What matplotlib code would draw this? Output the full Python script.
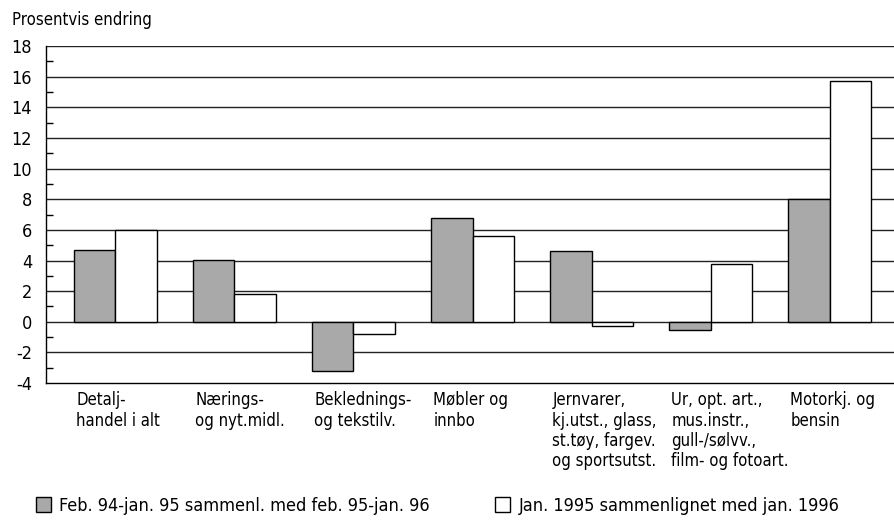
import numpy as np
import matplotlib.pyplot as plt
import matplotlib.transforms as mtransforms

plt.rcParams['font.family'] = ['DejaVu Sans']
plt.rcParams['font.stretch'] = 'condensed'
plt.rcParams['axes.unicode_minus'] = False

categories = ["Detalj-\nhandel i alt", "Nærings-\nog nyt.midl.", "Beklednings-\nog tekstilv.",
              "Møbler og\ninnbo", "Jernvarer,\nkj.utst., glass,\nst.tøy, fargev.\nog sportsutst.",
              "Ur, opt. art.,\nmus.instr.,\ngull-/sølvv.,\nfilm- og fotoart.", "Motorkj. og\nbensin"]
feb_series = [4.7, 4.05, -3.2, 6.8, 4.6, -0.55, 8.0]
jan_series = [6.0, 1.8, -0.8, 5.6, -0.3, 3.75, 15.75]
label_feb = "Feb. 94-jan. 95 sammenl. med feb. 95-jan. 96"
label_jan = "Jan. 1995 sammenlignet med jan. 1996"

fig = plt.figure(figsize=(8.94, 5.24), dpi=100)
ax = fig.add_axes([0.0515, 0.269, 0.9485, 0.643])

x = np.arange(len(categories))
w = 0.35
ax.bar(x - w / 2, feb_series, w, color='#a9a9a9', edgecolor='black', linewidth=1, zorder=3, label=label_feb)
ax.bar(x + w / 2, jan_series, w, color='white', edgecolor='black', linewidth=1, zorder=3, label=label_jan)

ax.set_ylim(-4, 18)
ax.set_xlim(-0.582, 6.54)
ax.set_yticks(np.arange(-4, 19, 2))
ax.set_yticks(np.arange(-3, 18, 2), minor=True)
ax.set_xticks([])
for yv in np.arange(-2, 19, 2):
    ax.axhline(yv, color='#222222', linewidth=1, zorder=1)
ax.tick_params(axis='y', which='major', length=0, labelsize=13, pad=10)
ax.tick_params(axis='y', which='minor', direction='in', length=5, width=1)
ax.spines['top'].set_visible(False)
ax.spines['right'].set_visible(False)
ax.spines['left'].set_linewidth(1)
ax.spines['bottom'].set_linewidth(1)

trans = mtransforms.blended_transform_factory(ax.transData, ax.transAxes)
for i, lab in enumerate(categories):
    ax.text(i - w + 0.02, -0.025, lab, transform=trans, ha='left', va='top',
            fontsize=12, linespacing=1.15)

fig.text(0.013, 0.962, "Prosentvis endring", ha='left', va='center', fontsize=12)

leg = fig.legend(loc='center left', bbox_to_anchor=(0.022, 0.034), ncol=2, frameon=False,
                 fontsize=13, handlelength=0.85, handleheight=0.9, handletextpad=0.45,
                 columnspacing=3.6)

fig.savefig('out.png', dpi=100)
